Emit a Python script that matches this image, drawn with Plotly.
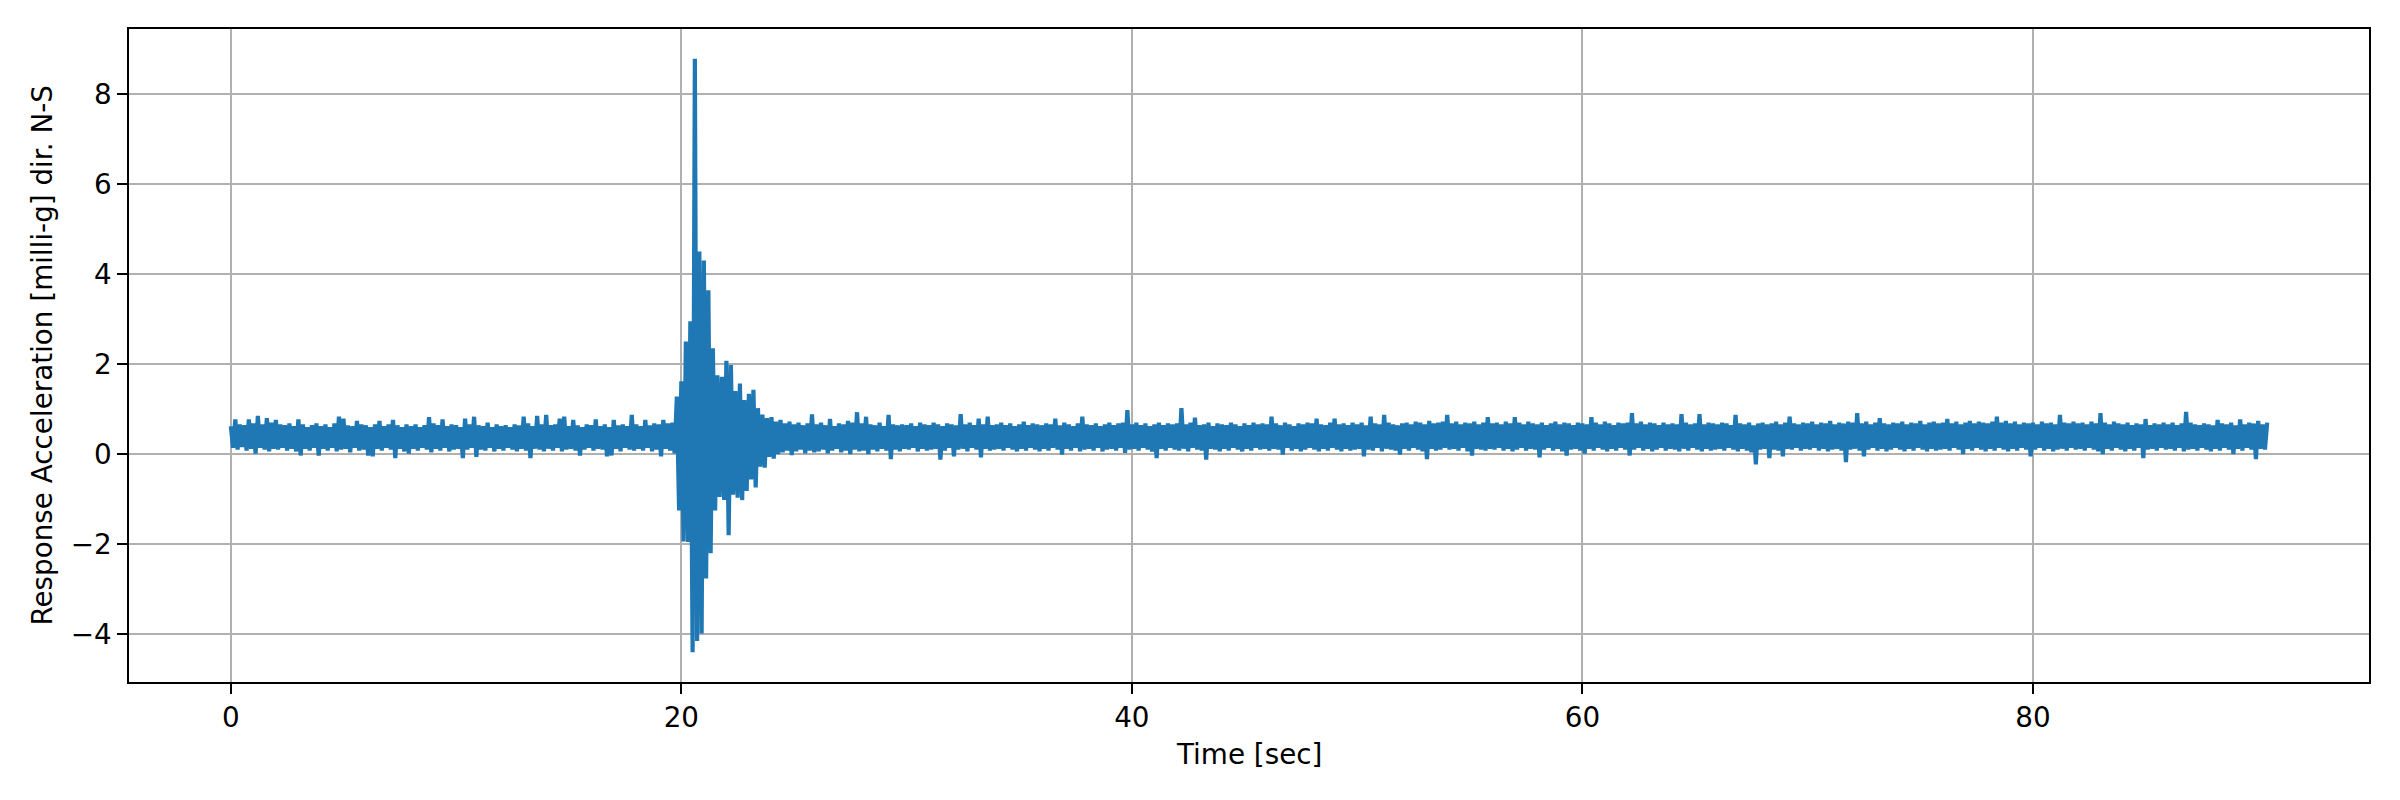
import numpy as np
import plotly.graph_objects as go

# Sampling step of the interleaved envelope series [s]
DT = 0.1

# Upper envelope values (t = 0.0, 0.2, 0.4, ... s)  [milli-g]
upper = [
    0.62, 0.77, 0.66, 0.64, 0.77, 0.68, 0.85, 0.66, 0.80, 0.70,
    0.76, 0.66, 0.64, 0.68, 0.62, 0.77, 0.66, 0.60, 0.64, 0.68,
    0.62, 0.66, 0.60, 0.68, 0.83, 0.79, 0.64, 0.62, 0.74, 0.66,
    0.64, 0.60, 0.66, 0.74, 0.62, 0.66, 0.76, 0.64, 0.60, 0.66,
    0.62, 0.66, 0.60, 0.64, 0.82, 0.68, 0.64, 0.77, 0.62, 0.66,
    0.64, 0.60, 0.79, 0.66, 0.83, 0.64, 0.62, 0.70, 0.60, 0.66,
    0.62, 0.64, 0.60, 0.66, 0.64, 0.83, 0.68, 0.62, 0.85, 0.66,
    0.87, 0.64, 0.66, 0.79, 0.83, 0.62, 0.76, 0.64, 0.60, 0.66,
    0.64, 0.77, 0.62, 0.66, 0.60, 0.76, 0.64, 0.66, 0.62, 0.87,
    0.66, 0.62, 0.76, 0.64, 0.68, 0.66, 0.76, 0.68, 0.70, 1.28,
    1.62, 2.50, 2.95, 8.78, 4.50, 4.30, 3.64, 2.35, 1.75, 1.72,
    2.07, 1.98, 1.40, 1.57, 1.20, 1.34, 1.43, 1.02, 0.88, 0.80,
    0.82, 0.72, 0.76, 0.68, 0.72, 0.66, 0.70, 0.64, 0.68, 0.88,
    0.66, 0.70, 0.64, 0.78, 0.62, 0.68, 0.66, 0.74, 0.70, 0.93,
    0.68, 0.83, 0.66, 0.64, 0.70, 0.62, 0.87, 0.66, 0.64, 0.66,
    0.64, 0.68, 0.62, 0.70, 0.66, 0.64, 0.70, 0.66, 0.62, 0.68,
    0.66, 0.64, 0.89, 0.66, 0.70, 0.64, 0.79, 0.66, 0.83, 0.64,
    0.66, 0.70, 0.64, 0.68, 0.62, 0.66, 0.72, 0.64, 0.68, 0.66,
    0.64, 0.68, 0.66, 0.79, 0.64, 0.70, 0.66, 0.62, 0.68, 0.83,
    0.66, 0.64, 0.68, 0.62, 0.66, 0.70, 0.64, 0.68, 0.70, 0.98,
    0.66, 0.70, 0.64, 0.68, 0.62, 0.66, 0.70, 0.64, 0.68, 0.66,
    0.68, 1.02, 0.66, 0.70, 0.81, 0.64, 0.66, 0.70, 0.62, 0.68,
    0.66, 0.64, 0.70, 0.66, 0.62, 0.68, 0.64, 0.70, 0.66, 0.68,
    0.66, 0.83, 0.68, 0.64, 0.70, 0.66, 0.62, 0.68, 0.66, 0.70,
    0.68, 0.79, 0.66, 0.64, 0.70, 0.79, 0.66, 0.68, 0.64, 0.70,
    0.66, 0.70, 0.64, 0.83, 0.68, 0.66, 0.87, 0.70, 0.66, 0.64,
    0.68, 0.70, 0.66, 0.72, 0.70, 0.66, 0.74, 0.68, 0.70, 0.72,
    0.87, 0.68, 0.72, 0.66, 0.70, 0.68, 0.72, 0.66, 0.70, 0.82,
    0.68, 0.70, 0.66, 0.72, 0.68, 0.82, 0.70, 0.66, 0.72, 0.68,
    0.66, 0.70, 0.64, 0.68, 0.72, 0.66, 0.70, 0.68, 0.64, 0.70,
    0.68, 0.66, 0.82, 0.70, 0.66, 0.72, 0.68, 0.64, 0.70, 0.68,
    0.70, 0.91, 0.68, 0.72, 0.66, 0.70, 0.68, 0.64, 0.70, 0.66,
    0.68, 0.66, 0.89, 0.70, 0.66, 0.68, 0.89, 0.66, 0.70, 0.68,
    0.66, 0.70, 0.68, 0.64, 0.87, 0.68, 0.66, 0.70, 0.64, 0.68,
    0.70, 0.66, 0.68, 0.72, 0.66, 0.70, 0.83, 0.68, 0.66, 0.70,
    0.68, 0.72, 0.66, 0.70, 0.68, 0.74, 0.66, 0.70, 0.68, 0.72,
    0.70, 0.91, 0.68, 0.72, 0.66, 0.70, 0.80, 0.68, 0.66, 0.70,
    0.68, 0.72, 0.66, 0.70, 0.68, 0.74, 0.66, 0.70, 0.72, 0.68,
    0.70, 0.78, 0.68, 0.72, 0.66, 0.70, 0.74, 0.68, 0.72, 0.70,
    0.68, 0.72, 0.83, 0.70, 0.74, 0.68, 0.72, 0.66, 0.70, 0.68,
    0.70, 0.66, 0.72, 0.68, 0.70, 0.66, 0.87, 0.70, 0.68, 0.72,
    0.68, 0.70, 0.66, 0.72, 0.68, 0.91, 0.70, 0.66, 0.72, 0.68,
    0.66, 0.70, 0.64, 0.68, 0.66, 0.78, 0.64, 0.68, 0.66, 0.70,
    0.66, 0.70, 0.64, 0.68, 0.94, 0.70, 0.66, 0.64, 0.68, 0.66,
    0.64, 0.76, 0.68, 0.66, 0.70, 0.64, 0.77, 0.66, 0.70, 0.68,
    0.74, 0.66, 0.70,
]

# Lower envelope values (t = 0.1, 0.3, 0.5, ... s)  [milli-g]
lower = [
    0.14, 0.10, 0.16, 0.08, 0.12, 0.01, 0.14, 0.10, 0.06, 0.12,
    0.10, 0.14, 0.08, 0.12, 0.06, -0.03, 0.12, 0.08, 0.14, -0.03,
    0.12, 0.08, 0.14, 0.06, 0.10, 0.12, 0.04, 0.14, 0.08, 0.10,
    -0.03, -0.05, 0.12, 0.08, 0.14, 0.10, -0.09, 0.12, 0.06, 0.01,
    0.12, 0.08, 0.14, 0.10, 0.04, 0.12, 0.08, 0.14, 0.06, 0.10,
    0.12, -0.09, 0.10, 0.14, -0.06, 0.10, 0.08, 0.14, 0.06, 0.12,
    0.08, 0.14, 0.10, 0.06, 0.12, 0.08, -0.09, 0.12, 0.10, 0.06,
    0.12, 0.08, 0.14, 0.06, 0.10, 0.12, 0.08, -0.03, 0.10, 0.14,
    0.08, 0.12, 0.10, -0.05, -0.03, 0.12, 0.06, 0.14, 0.10, 0.08,
    0.12, 0.08, 0.14, 0.06, 0.10, -0.05, 0.12, 0.08, 0.02, -1.25,
    -1.94, -1.95, -4.40, -4.15, -3.98, -2.76, -2.20, -1.25, -0.95, -1.02,
    -1.80, -0.90, -0.97, -1.02, -0.82, -0.56, -0.74, -0.28, -0.30, -0.06,
    -0.10, 0.00, 0.04, 0.08, -0.02, 0.06, 0.10, 0.02, 0.08, 0.04,
    0.06, 0.10, 0.02, 0.08, 0.12, 0.04, 0.08, 0.00, 0.10, 0.06,
    0.08, 0.00, 0.10, 0.06, 0.12, 0.08, -0.11, 0.10, 0.06, 0.12,
    0.10, 0.14, 0.06, 0.12, 0.08, 0.10, 0.12, -0.12, 0.08, 0.14,
    -0.05, 0.10, 0.12, 0.06, 0.14, 0.10, -0.07, 0.12, 0.08, 0.10,
    0.12, 0.08, 0.14, 0.10, 0.06, 0.12, 0.08, 0.14, 0.10, 0.06,
    0.12, 0.08, 0.14, 0.10, -0.01, 0.12, 0.08, 0.14, 0.06, 0.10,
    0.12, 0.08, 0.14, 0.06, 0.10, 0.12, 0.08, 0.14, 0.03, 0.10,
    0.12, 0.08, 0.14, 0.10, 0.06, -0.09, 0.12, 0.08, 0.14, 0.10,
    0.08, 0.12, 0.06, 0.14, 0.10, 0.08, -0.12, 0.12, 0.10, 0.06,
    0.12, 0.08, 0.14, 0.10, 0.06, 0.12, 0.08, 0.14, 0.10, 0.12,
    0.08, 0.12, 0.10, -0.01, 0.14, 0.08, 0.12, 0.06, 0.10, 0.14,
    0.10, 0.06, 0.12, 0.08, 0.14, 0.10, 0.06, 0.12, 0.08, 0.10,
    0.12, -0.05, 0.10, 0.08, 0.14, 0.06, 0.12, 0.10, 0.08, -0.01,
    0.12, 0.08, 0.14, 0.10, 0.06, -0.11, 0.12, 0.08, 0.10, 0.14,
    0.10, 0.12, 0.08, 0.14, 0.06, -0.03, 0.12, 0.10, 0.08, 0.12,
    0.10, 0.14, 0.08, 0.12, 0.06, 0.10, 0.14, 0.08, 0.12, 0.10,
    -0.07, 0.10, 0.14, 0.08, 0.12, 0.06, -0.03, 0.10, 0.12, 0.08,
    0.01, 0.12, 0.08, 0.14, 0.10, 0.06, 0.12, 0.08, 0.14, 0.10,
    -0.03, 0.10, 0.14, 0.08, 0.12, 0.06, 0.10, 0.14, 0.08, 0.12,
    0.10, 0.06, 0.12, 0.08, 0.14, 0.10, 0.06, 0.12, 0.08, 0.10,
    0.12, 0.08, 0.14, 0.10, 0.06, 0.12, 0.08, 0.04, -0.23, 0.10,
    0.12, -0.09, 0.10, 0.08, -0.05, 0.12, 0.10, 0.14, 0.08, 0.12,
    0.10, 0.14, 0.08, 0.12, 0.06, 0.10, 0.12, 0.08, -0.18, 0.10,
    0.12, 0.08, -0.05, 0.10, 0.14, 0.08, 0.12, 0.06, 0.10, 0.14,
    0.10, 0.06, 0.12, 0.08, 0.14, 0.10, 0.06, 0.12, 0.08, 0.10,
    0.12, 0.08, 0.14, 0.10, 0.00, 0.12, 0.08, 0.14, 0.10, 0.06,
    0.12, 0.08, 0.14, 0.10, 0.06, 0.12, 0.08, 0.14, 0.10, -0.05,
    0.10, 0.14, 0.08, 0.12, 0.06, 0.10, 0.12, 0.08, 0.14, 0.10,
    0.12, 0.08, 0.14, 0.10, 0.06, 0.00, 0.12, 0.08, 0.14, 0.10,
    0.06, 0.12, 0.08, 0.14, -0.09, 0.10, 0.12, 0.08, 0.14, 0.10,
    0.12, 0.08, 0.14, 0.06, 0.10, 0.12, 0.08, 0.14, 0.10, 0.06,
    0.12, 0.08, 0.14, 0.10, 0.00, 0.12, 0.08, 0.14, 0.10, -0.11,
    0.12, 0.10,
]

x_ticks = [0, 20, 40, 60, 80]
y_ticks = [-4, -2, 0, 2, 4, 6, 8]
y_tick_text = ["\u22124", "\u22122", "0", "2", "4", "6", "8"]

x_title = "Time [sec]"
y_title = "Response Acceleration [milli-g] dir. N-S"

# Interleave upper/lower envelope samples into one time series
n = len(upper) + len(lower)
accel = np.empty(n)
accel[0::2] = upper
accel[1::2] = lower
time = np.round(np.arange(n) * DT, 2)

# matplotlib-like 5% auto margins
xspan = time.max() - time.min()
yspan = accel.max() - accel.min()
xr = [time.min() - 0.05 * xspan, time.max() + 0.05 * xspan]
yr = [accel.min() - 0.05 * yspan, accel.max() + 0.05 * yspan]

FONT = "DejaVu Sans"
FS = 27.8
GRID = "#b0b0b0"
LW = 2.2

fig = go.Figure()
fig.add_trace(go.Scatter(
    x=time, y=accel, mode="lines",
    line=dict(color="#1f77b4", width=4.2),
    hoverinfo="skip", showlegend=False,
))

axis_common = dict(
    showgrid=True, gridcolor=GRID, gridwidth=LW,
    zeroline=False, showline=True, linecolor="black", linewidth=LW,
    mirror=True, ticks="outside", ticklen=9.7, tickwidth=LW, tickcolor="black",
    tickfont=dict(family=FONT, size=FS, color="black"),
)

fig.update_layout(
    width=2400, height=800,
    margin=dict(l=129, r=31, t=29, b=118),
    paper_bgcolor="white", plot_bgcolor="white",
    font=dict(family=FONT, size=FS, color="black"),
    showlegend=False,
    xaxis=dict(range=xr, tickmode="array", tickvals=x_ticks, **axis_common),
    yaxis=dict(range=yr, tickmode="array", tickvals=y_ticks, ticktext=y_tick_text,
               **axis_common),
    annotations=[
        dict(text=x_title, xref="paper", yref="paper", x=0.5, y=-0.111,
             xanchor="center", yanchor="middle", showarrow=False,
             font=dict(family=FONT, size=FS, color="black")),
        dict(text=y_title, xref="paper", yref="paper", x=-0.0388, y=0.5,
             xanchor="center", yanchor="middle", textangle=-90, showarrow=False,
             font=dict(family=FONT, size=FS, color="black")),
    ],
)

fig.write_html("out.html", config={"displayModeBar": False},
               post_script="document.body.style.margin='0';")
